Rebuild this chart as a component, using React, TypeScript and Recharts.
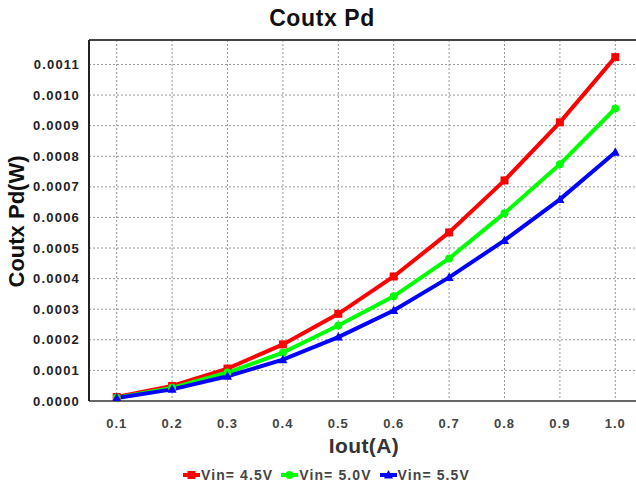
import React from "react";
import {
  CartesianGrid,
  Label,
  Line,
  LineChart,
  ReferenceLine,
  XAxis,
  YAxis,
} from "recharts";

const iout = [0.1, 0.2, 0.3, 0.4, 0.5, 0.6, 0.7, 0.8, 0.9, 1.0];
const vin45 = [0.000013, 0.000049, 0.000106, 0.000185, 0.000285, 0.000407, 0.000551, 0.000721, 0.000911, 0.001124];
const vin50 = [0.000011, 0.000043, 0.000093, 0.000158, 0.000247, 0.000342, 0.000466, 0.000614, 0.000774, 0.000956];
const vin55 = [0.00001, 0.000038, 0.000081, 0.000135, 0.000209, 0.000296, 0.000404, 0.000525, 0.000659, 0.000813];
const yTicks = [0, 0.0001, 0.0002, 0.0003, 0.0004, 0.0005, 0.0006, 0.0007, 0.0008, 0.0009, 0.001, 0.0011];

const series = [
  { key: "v45", name: "Vin= 4.5V", color: "#ff0000", shape: "square" },
  { key: "v50", name: "Vin= 5.0V", color: "#00ff00", shape: "circle" },
  { key: "v55", name: "Vin= 5.5V", color: "#0000ff", shape: "triangle" },
];

const data = iout.map((x, i) => ({ x, v45: vin45[i], v50: vin50[i], v55: vin55[i] }));

const font = "'Liberation Sans', Arial, sans-serif";

function markerShape(shape: string, cx: number, cy: number, color: string, key?: string) {
  if (shape === "square") {
    return <rect key={key} x={cx - 4} y={cy - 4} width={8} height={8} fill={color} />;
  }
  if (shape === "circle") {
    return <circle key={key} cx={cx} cy={cy} r={4} fill={color} />;
  }
  return (
    <polygon
      key={key}
      points={`${cx},${cy - 5} ${cx + 4.5},${cy + 3.5} ${cx - 4.5},${cy + 3.5}`}
      fill={color}
    />
  );
}

function makeDot(shape: string, color: string) {
  return (props: any) => {
    const { cx, cy, index } = props;
    if (cx == null || cy == null) return <g key={`d${index}`} />;
    return markerShape(shape, cx, cy, color, `d${index}`);
  };
}

function LegendIcon({ shape, color }: { shape: string; color: string }) {
  return (
    <svg width={17} height={10} style={{ display: "block" }}>
      <line x1={0} y1={5} x2={17} y2={5} stroke={color} strokeWidth={4} />
      {markerShape(shape, 8.5, 5, color)}
    </svg>
  );
}

// axis titles drawn by hand so the rotation is reliable
function YTitle(props: any) {
  const vb = props.viewBox || {};
  const cy = (vb.y || 0) + (vb.height || 0) / 2 + 1;
  return (
    <text
      x={24}
      y={cy}
      transform={`rotate(-90 24 ${cy})`}
      textAnchor="middle"
      style={{ fill: "#111", fontSize: 22, fontWeight: "bold", fontFamily: font }}
    >
      Coutx Pd(W)
    </text>
  );
}

function XTitle(props: any) {
  const vb = props.viewBox || {};
  const cx = (vb.x || 0) + (vb.width || 0) / 2 - 2;
  return (
    <text
      x={cx}
      y={453}
      textAnchor="middle"
      style={{ fill: "#333", fontSize: 21, fontWeight: "bold", fontFamily: font, letterSpacing: 0.4 }}
    >
      Iout(A)
    </text>
  );
}

export default function App() {
  return (
    <div
      style={{
        position: "absolute",
        left: 0,
        top: 0,
        width: 636,
        height: 490,
        overflow: "hidden",
        background: "#fff",
        fontFamily: font,
      }}
    >
      <div
        style={{
          position: "absolute",
          left: 0,
          top: 5,
          width: 644,
          textAlign: "center",
          fontSize: 23,
          fontWeight: "bold",
          color: "#111",
          letterSpacing: 0.6,
        }}
      >
        Coutx Pd
      </div>
      <LineChart
        width={646}
        height={490}
        data={data}
        margin={{ top: 40, right: 3, bottom: 0, left: 0 }}
      >
        <CartesianGrid stroke="#999" strokeDasharray="2 2" />
        <XAxis
          dataKey="x"
          type="number"
          domain={[0.05, 1.05]}
          ticks={iout}
          tickFormatter={(v: number) => v.toFixed(1)}
          axisLine={{ stroke: "#666", strokeWidth: 2 }}
          tickLine={false}
          tickMargin={12}
          tick={{ fill: "#444", fontSize: 13, fontWeight: "bold", fontFamily: font, letterSpacing: 1 }}
          height={89}
        >
          <Label content={<XTitle />} />
        </XAxis>
        <YAxis
          type="number"
          domain={[0, 0.00118]}
          ticks={yTicks}
          tickFormatter={(v: number) => v.toFixed(4)}
          axisLine={{ stroke: "#222", strokeWidth: 2 }}
          tickLine={false}
          tickMargin={3}
          tick={{ fill: "#222", fontSize: 13, fontWeight: "bold", fontFamily: font, letterSpacing: 1.2 }}
          width={89}
          allowDataOverflow
        >
          <Label content={<YTitle />} />
        </YAxis>
        <ReferenceLine y={0.00118} stroke="#444" strokeWidth={2} />
        {series.map((s) => (
          <Line
            key={s.key}
            dataKey={s.key}
            name={s.name}
            stroke={s.color}
            strokeWidth={4}
            dot={makeDot(s.shape, s.color)}
            activeDot={false}
            isAnimationActive={false}
          />
        ))}
      </LineChart>
      <div
        style={{
          position: "absolute",
          left: 183,
          top: 467,
          display: "flex",
          alignItems: "center",
          gap: 8,
          fontSize: 14,
          fontWeight: "bold",
          color: "#444",
          letterSpacing: 1.1,
        }}
      >
        {series.map((s) => (
          <div key={s.key} style={{ display: "flex", alignItems: "center", gap: 1 }}>
            <LegendIcon shape={s.shape} color={s.color} />
            <span>{s.name}</span>
          </div>
        ))}
      </div>
    </div>
  );
}
